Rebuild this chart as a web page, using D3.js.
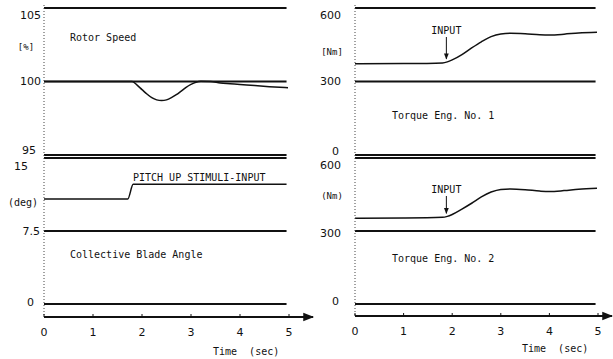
<!DOCTYPE html>
<html>
<head>
<meta charset="utf-8">
<script src="https://cdn.jsdelivr.net/npm/d3@7"></script>
<style>
  body { margin: 0; background: #fff; }
  text { fill: #111; }
</style>
</head>
<body>
<script>
// size of the picture
var w = 613;
var h = 359;

// time axis (same for all panels)
var timeTicks = [0, 1, 2, 3, 4, 5];

// rotor speed [%]
var rotorTicks = [105, 100, 95];
var rotorT = [0, 1.8, 1.9, 2.0, 2.1, 2.2, 2.3, 2.4, 2.5, 2.6, 2.7, 2.8, 2.9, 3.0, 3.1, 3.2, 3.4, 3.6, 3.8, 4.0, 4.3, 4.6, 4.98];
var rotorV = [100, 100, 99.75, 99.45, 99.15, 98.9, 98.75, 98.7, 98.75, 98.9, 99.1, 99.35, 99.6, 99.8, 99.95, 100.02, 100.0, 99.9, 99.85, 99.8, 99.72, 99.65, 99.58];

// collective blade angle [deg]
var pitchTicks = [15, 7.5, 0];
var pitchT = [0, 1.71, 1.82, 4.95];
var pitchV = [10.8, 10.8, 12.3, 12.3];

// engine torques [Nm]
var torqueTicks = [600, 300, 0];
var torqueT = [0, 1.0, 1.8, 1.9, 2.0, 2.2, 2.4, 2.6, 2.8, 3.0, 3.2, 3.5, 3.8, 4.0, 4.3, 4.6, 4.98];
var torque1V = [372, 373, 376, 380, 388, 410, 437, 462, 483, 494, 497, 495, 491, 490, 493, 498, 501];
var torque2V = [352, 353, 356, 360, 368, 390, 414, 440, 460, 471, 473, 470, 464, 462, 466, 472, 476];
var inputTime = 1.88;

var svg = d3.select("body")
  .append("svg")
  .attr("width", w)
  .attr("height", h);

svg.append("defs").append("marker")
  .attr("id", "arr")
  .attr("viewBox", "0 0 10 10")
  .attr("refX", 9).attr("refY", 5)
  .attr("markerWidth", 9).attr("markerHeight", 6)
  .attr("orient", "auto")
  .append("path")
  .attr("d", "M0,1 L10,5 L0,9 Z")
  .attr("fill", "#111");

var mono = "'DejaVu Sans Mono', monospace";
var sans = "'DejaVu Sans', sans-serif";

// x scales for left and right column
var xLeft = d3.scaleLinear().domain([0, 5]).range([44, 289]);
var xRight = d3.scaleLinear().domain([0, 5]).range([355, 598]);

// draw one panel: ref lines, tick labels, curve
function panel(x, y, ticks, labelEnds, labelDy, tEnd, ts, vs) {
  svg.selectAll(null)
    .data(ticks)
    .enter()
    .append("line")
    .attr("x1", x(0))
    .attr("x2", x(tEnd))
    .attr("y1", function(d) { return y(d); })
    .attr("y2", function(d) { return y(d); })
    .attr("stroke", "#111")
    .attr("stroke-width", 1.8);

  svg.selectAll(null)
    .data(ticks)
    .enter()
    .append("text")
    .text(function(d) { return d; })
    .attr("x", function(d, i) { return labelEnds[i]; })
    .attr("y", function(d, i) { return y(d) + labelDy[i]; })
    .attr("text-anchor", "end")
    .attr("dominant-baseline", "central")
    .attr("font-family", sans)
    .attr("font-size", "11px");

  var pts = ts.map(function(t, i) { return [t, vs[i]]; });
  var line = d3.line()
    .x(function(d) { return x(d[0]); })
    .y(function(d) { return y(d[1]); })
    .curve(d3.curveMonotoneX);
  svg.append("path")
    .datum(pts)
    .attr("d", line)
    .attr("fill", "none")
    .attr("stroke", "#111")
    .attr("stroke-width", 1.5);
}

var yRotor = d3.scaleLinear().domain([95, 105]).range([155, 8]);
var yPitch = d3.scaleLinear().domain([0, 15]).range([304, 158]);
var yTq1 = d3.scaleLinear().domain([0, 600]).range([155, 8]);
var yTq2 = d3.scaleLinear().domain([0, 600]).range([304, 158]);

panel(xLeft, yRotor, rotorTicks, [41, 41, 36], [7, 0, -5], 4.95, rotorT, rotorV);
panel(xLeft, yPitch, pitchTicks, [28, 40, 34], [8, 0, -2], 4.95, pitchT, pitchV);
panel(xRight, yTq1, torqueTicks, [341, 341, 339], [7, 0, -4], 4.95, torqueT, torque1V);
panel(xRight, yTq2, torqueTicks, [341, 341, 339], [7, 2, -3], 4.95, torqueT, torque2V);

// dotted y axes
[xLeft, xRight].forEach(function(x) {
  svg.append("line")
    .attr("x1", x(0)).attr("x2", x(0))
    .attr("y1", 5).attr("y2", 317)
    .attr("stroke", "#444")
    .attr("stroke-width", 1)
    .attr("stroke-dasharray", "1,2");
});

// time axes with arrow
function timeAxis(x, yPos, xEnd, titleX, titleY) {
  var g = svg.append("g").attr("transform", "translate(0," + yPos + ")");
  g.append("line")
    .attr("x1", x(0)).attr("x2", xEnd)
    .attr("y1", 0).attr("y2", 0)
    .attr("stroke", "#111")
    .attr("stroke-width", 1.8)
    .attr("marker-end", "url(#arr)");
  g.selectAll(null)
    .data(timeTicks)
    .enter()
    .append("line")
    .attr("x1", function(d) { return x(d); })
    .attr("x2", function(d) { return x(d); })
    .attr("y1", 0).attr("y2", -3)
    .attr("stroke", "#111");
  g.selectAll(null)
    .data(timeTicks)
    .enter()
    .append("text")
    .text(function(d) { return d; })
    .attr("x", function(d) { return x(d); })
    .attr("y", 15)
    .attr("text-anchor", "middle")
    .attr("dominant-baseline", "central")
    .attr("font-family", sans)
    .attr("font-size", "11px");
  svg.append("text")
    .text("Time  (sec)")
    .attr("x", titleX)
    .attr("y", titleY)
    .attr("dominant-baseline", "central")
    .attr("font-family", mono)
    .attr("font-size", "10px")
    .style("white-space", "pre");
}
timeAxis(xLeft, 317, 313, 213, 351);
timeAxis(xRight, 316, 612, 522, 348);

// labels inside panels
function label(txt, x, y, size, anchor) {
  svg.append("text")
    .text(txt)
    .attr("x", x).attr("y", y)
    .attr("text-anchor", anchor || "start")
    .attr("dominant-baseline", "central")
    .attr("font-family", mono)
    .attr("font-size", size || "10px");
}
label("Rotor Speed", 70, 37);
label("[%]", 26, 47, "9px", "middle");
label("PITCH UP STIMULI-INPUT", 133, 177);
label("(deg)", 23, 202, "10px", "middle");
label("Collective Blade Angle", 70, 254);
label("[Nm]", 332, 52, "9px", "middle");
label("Torque Eng. No. 1", 392, 115);
label("(Nm)", 332, 196, "9px", "middle");
label("Torque Eng. No. 2", 392, 258);

// INPUT arrows
[[yTq1, torque1V, 30], [yTq2, torque2V, 189]].forEach(function(p) {
  var x = xRight(inputTime);
  label("INPUT", x, p[2], "10px", "middle");
  svg.append("line")
    .attr("x1", x).attr("x2", x)
    .attr("y1", p[2] + 7)
    .attr("y2", p[0](p[1][3]) - 3)
    .attr("stroke", "#111")
    .attr("stroke-width", 1)
    .attr("marker-end", "url(#arr)");
});
</script>
</body>
</html>
